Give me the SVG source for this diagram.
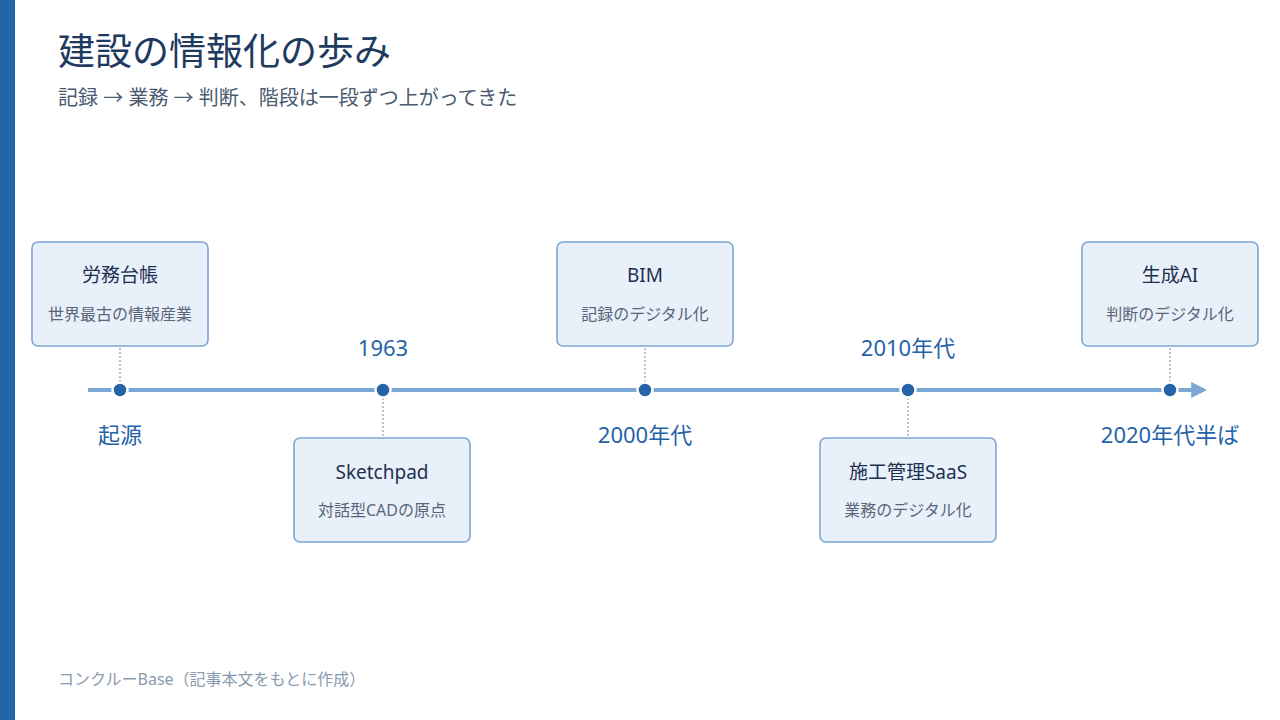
<svg xmlns="http://www.w3.org/2000/svg" width="1280" height="720" viewBox="0 0 1280 720">
<style>
text{font-family:"Noto Sans","Noto Sans CJK JP",sans-serif}
.box{fill:#e8f0fa;stroke:#7ba7d4;stroke-width:1.6}
.t{font-size:19px;fill:#1e3050;text-anchor:middle}
.s{font-size:16px;fill:#5a6578;text-anchor:middle}
.lbl{font-size:22px;fill:#2563a8;text-anchor:middle}
.dot{fill:#2563a8;stroke:#ffffff;stroke-width:2.5}
.tick{stroke:#9aafc8;stroke-width:1.5;stroke-dasharray:2 2}
</style>
<defs>
<marker id="arr" viewBox="0 0 10 10" refX="8" refY="5" markerWidth="4" markerHeight="4" orient="auto" markerUnits="strokeWidth">
<path d="M0,0 L10,5 L0,10 z" fill="#7ba7d4"/>
</marker>
</defs>
<rect width="1280" height="720" fill="#ffffff"/>
<rect x="0" y="0" width="15" height="720" fill="#2364aa"/>
<text x="58" y="65" style="font-size:37px;fill:#1e3a5f">建設の情報化の歩み</text>
<text x="58" y="105" style="font-size:20px;fill:#4a5a70">記録 → 業務 → 判断、階段は一段ずつ上がってきた</text>
<g id="connectors">
<line x1="88" y1="390" x2="1204" y2="390" stroke="#7ba7d4" stroke-width="4" marker-end="url(#arr)"/>
<line class="tick" x1="120" y1="348" x2="120" y2="382"/>
<line class="tick" x1="383" y1="398" x2="383" y2="437"/>
<line class="tick" x1="645" y1="348" x2="645" y2="382"/>
<line class="tick" x1="908" y1="398" x2="908" y2="437"/>
<line class="tick" x1="1170" y1="348" x2="1170" y2="382"/>
</g>
<g id="n1">
<rect class="box" x="32" y="242" width="176" height="104" rx="6"/>
<text class="t" x="120" y="282">労務台帳</text>
<text class="s" x="120" y="320">世界最古の情報産業</text>
<circle class="dot" cx="120" cy="390" r="7.5"/>
<text class="lbl" x="120" y="443">起源</text>
</g>
<g id="n2">
<rect class="box" x="294" y="438" width="176" height="104" rx="6"/>
<text class="t" x="382" y="479">Sketchpad</text>
<text class="s" x="382" y="516">対話型CADの原点</text>
<circle class="dot" cx="383" cy="390" r="7.5"/>
<text class="lbl" x="383" y="356">1963</text>
</g>
<g id="n3">
<rect class="box" x="557" y="242" width="176" height="104" rx="6"/>
<text class="t" x="645" y="282">BIM</text>
<text class="s" x="645" y="320">記録のデジタル化</text>
<circle class="dot" cx="645" cy="390" r="7.5"/>
<text class="lbl" x="645" y="443">2000年代</text>
</g>
<g id="n4">
<rect class="box" x="820" y="438" width="176" height="104" rx="6"/>
<text class="t" x="908" y="479">施工管理SaaS</text>
<text class="s" x="908" y="516">業務のデジタル化</text>
<circle class="dot" cx="908" cy="390" r="7.5"/>
<text class="lbl" x="908" y="356">2010年代</text>
</g>
<g id="n5">
<rect class="box" x="1082" y="242" width="176" height="104" rx="6"/>
<text class="t" x="1170" y="282">生成AI</text>
<text class="s" x="1170" y="320">判断のデジタル化</text>
<circle class="dot" cx="1170" cy="390" r="7.5"/>
<text class="lbl" x="1170" y="443">2020年代半ば</text>
</g>
<text x="58" y="685" style="font-size:16px;fill:#8a9ab0">コンクルーBase（記事本文をもとに作成）</text>
</svg>
